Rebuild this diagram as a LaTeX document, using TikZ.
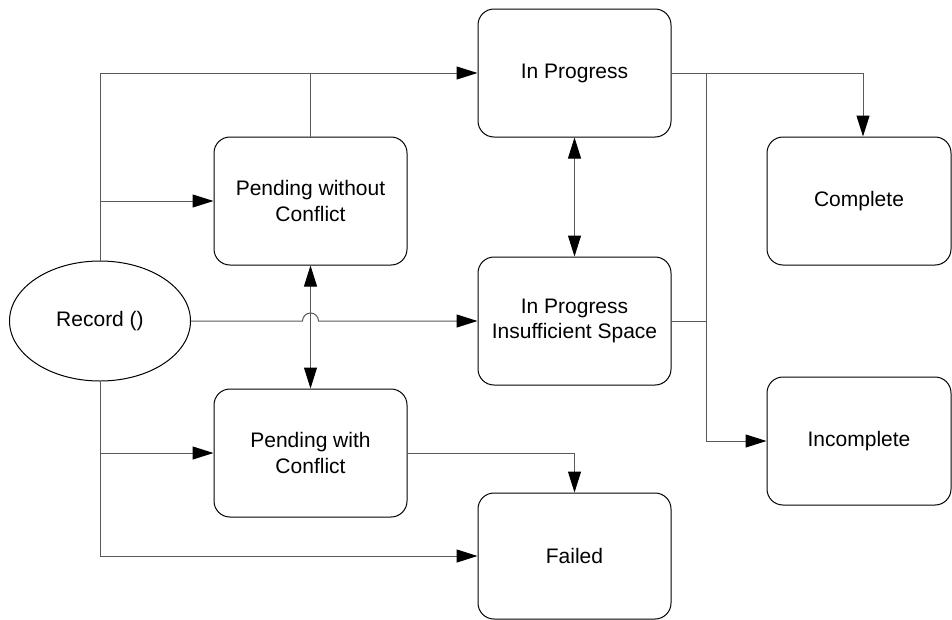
\documentclass[tikz,border=0pt]{standalone}
\usepackage{fontspec}
\setmainfont{Liberation Sans}
\usetikzlibrary{arrows.meta,shapes.geometric}
\begin{document}
\begin{tikzpicture}[x=1pt,y=-1pt,
  box/.style={draw=black, line width=1pt, rounded corners=16pt, minimum width=193pt,
    minimum height=128pt, inner sep=0pt, align=center,
    font=\fontsize{21}{25.5}\selectfont},
  oval/.style={draw=black, line width=1pt, ellipse, minimum width=181pt, minimum height=120pt,
    inner sep=0pt, font=\fontsize{21}{25.5}\selectfont},
  tip/.tip={Triangle[length=21pt,width=13pt,color=black]},
  conn/.style={draw=black!65, line width=1pt},
  arr/.style={conn,-tip},
  darr/.style={conn,tip-tip}]
\useasboundingbox (0,0) rectangle (952,619);
\node[oval] (rec) at (100,321) {Record ()};
\node[box] (ip) at (574.5,73) {In Progress};
\node[box] (pwo) at (310.5,201) {Pending without\\Conflict};
\node[box, minimum width=184pt] (comp) at (859,201) {Complete};
\node[box] (ipis) at (574.5,321) {In Progress\\Insufficient Space};
\node[box] (pw) at (310.5,453) {Pending with\\Conflict};
\node[box, minimum width=184pt] (inc) at (859,441) {Incomplete};
\node[box, minimum height=126pt] (fail) at (574.5,556) {Failed};
\coordinate (bus) at (706.5,73);
\coordinate (hop) at (310.5,321);
% left trunk
\draw[arr] (rec.north) |- (ip.west);
\draw[arr] (rec.north |- pwo.west) -- (pwo.west);
\draw[conn] (pwo.north) -- (pwo.north |- ip.west);
\draw[arr] (rec.south) |- (fail.west);
\draw[arr] (rec.south |- pw.west) -- (pw.west);
% record to insufficient space with hop
\draw[arr] (rec.east) -- ([xshift=-8pt]hop) arc[start angle=180, end angle=0, radius=8pt] -- (ipis.west);
% double arrows
\draw[darr] (pwo.south) -- (pw.north);
\draw[darr] (ip.south) -- (ipis.north);
% right side
\draw[arr] (ip.east) -| ([xshift=4pt]comp.north);
\draw[arr] (bus) |- (inc.west);
\draw[conn] (ipis.east) -- (bus |- ipis.east);
\draw[arr] (pw.east) -| (fail.north);
\end{tikzpicture}
\end{document}
